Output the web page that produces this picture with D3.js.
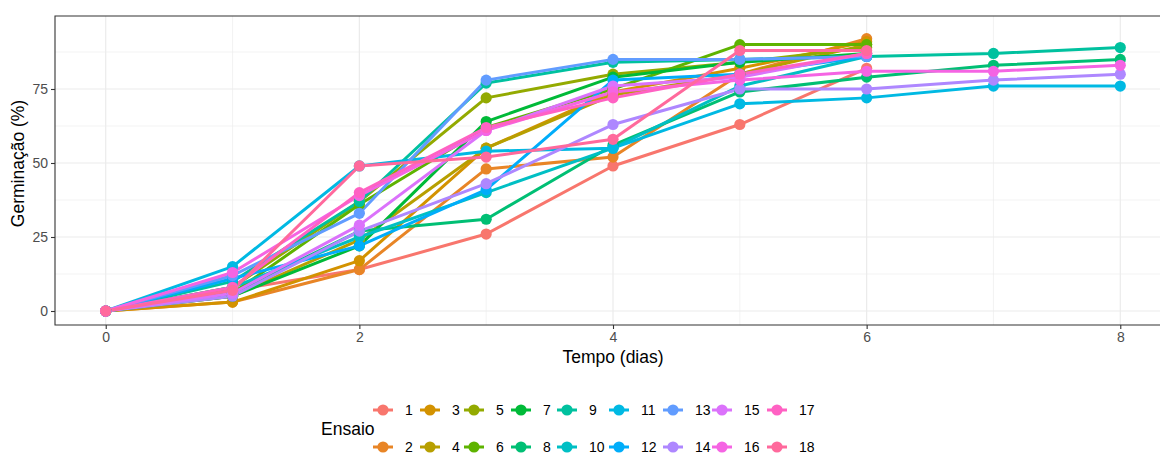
<!DOCTYPE html>
<html><head><meta charset="utf-8">
<script src="https://cdn.jsdelivr.net/npm/d3@7"></script>
<style>html,body{margin:0;background:#fff;overflow:hidden}svg{display:block;font-family:"Liberation Sans",Arial,sans-serif}</style>
</head><body><svg id="c" width="1160" height="456"></svg>
<script>
// ---- data ----
const days = [0, 1, 2, 3, 4, 5, 6, 7, 8];
const ensaios = ["1","2","3","4","5","6","7","8","9","10","11","12","13","14","15","16","17","18"];
const e1  = [0, 7, 14, 26, 49, 63, 82];
const e2  = [0, 3, 14, 48, 52, 80, 92];
const e3  = [0, 3, 17, 55, 74, 82, 91];
const e4  = [0, 5, 24, 55, 73, 80, 90];
const e5  = [0, 8, 37, 72, 80, 84, 89];
const e6  = [0, 6, 36, 62, 75, 90, 90];
const e7  = [0, 5, 22, 64, 79, 84, 87];
const e8  = [0, 6, 27, 31, 56, 74, 79, 83, 85];
const e9  = [0, 10, 37, 77, 84, 85, 86, 87, 89];
const e10 = [0, 8, 25, 40, 55, 76, 86];
const e11 = [0, 15, 49, 54, 55, 70, 72, 76, 76];
const e12 = [0, 11, 22, 41, 78, 80, 86];
const e13 = [0, 12, 33, 78, 85, 85, 86];
const e14 = [0, 5, 27, 43, 63, 75, 75, 78, 80];
const e15 = [0, 6, 29, 61, 76, 79, 87];
const e16 = [0, 13, 39, 61, 74, 78, 81, 81, 83];
const e17 = [0, 8, 40, 62, 72, 80, 87];
const e18 = [0, 7, 49, 52, 58, 88, 88];
const seriesValues = [e1,e2,e3,e4,e5,e6,e7,e8,e9,e10,e11,e12,e13,e14,e15,e16,e17,e18];
const xTicks = [0, 2, 4, 6, 8];
const yTicks = [0, 25, 50, 75];
const xTitle = "Tempo (dias)";
const yTitle = "Germinação (%)";
const legendTitle = "Ensaio";

// ---- ggplot hue palette (polarLUV) ----
function hclLuv(h, c, l) {
  const hr = h * Math.PI / 180;
  const U = c * Math.cos(hr), V = c * Math.sin(hr);
  const Xn = 95.047, Yn = 100, Zn = 108.883;
  const Y = l > 8 ? Yn * Math.pow((l + 16) / 116, 3) : Yn * l / 903.3;
  const t = Xn + 15 * Yn + 3 * Zn, un = 4 * Xn / t, vn = 9 * Yn / t;
  const u = U / (13 * l) + un, v = V / (13 * l) + vn;
  const X = 9 * Y * u / (4 * v), Z = -X / 3 - 5 * Y + 3 * Y / v;
  const x = X / 100, y = Y / 100, z = Z / 100;
  const lin = [3.240479*x - 1.537150*y - 0.498535*z,
               -0.969256*x + 1.875992*y + 0.041556*z,
               0.055648*x - 0.204043*y + 1.057311*z];
  const g = lin.map(q => { q = q <= 0.0031308 ? 12.92 * q : 1.055 * Math.pow(q, 1/2.4) - 0.055; return Math.round(255 * Math.max(0, Math.min(1, q))); });
  return d3.rgb(g[0], g[1], g[2]).formatHex();
}
const n = ensaios.length;
const colors = ensaios.map((d, i) => hclLuv(15 + 360 * i / n, 100, 65));
const color = d3.scaleOrdinal().domain(ensaios).range(colors);

// ---- layout ----
const svg = d3.select("#c");
const P = {left: 55, top: 16, bottom: 325, right: 1171};
const x = d3.scaleLinear().domain([-0.4, 8.4]).range([P.left, P.right]);
const y = d3.scaleLinear().domain([-4.73, 99.66]).range([P.bottom, P.top]);

const panel = svg.append("g");
panel.append("rect").attr("x", P.left).attr("y", P.top).attr("width", P.right - P.left).attr("height", P.bottom - P.top).attr("fill", "#fff");
const yMinor = yTicks.map(v => v + 12.5);
const xMinor = [1, 3, 5, 7];
panel.selectAll(".ym").data(yMinor).join("line").attr("x1", P.left).attr("x2", P.right).attr("y1", d => y(d)).attr("y2", d => y(d)).attr("stroke", "#EBEBEB").attr("stroke-width", 0.6);
panel.selectAll(".xm").data(xMinor).join("line").attr("y1", P.top).attr("y2", P.bottom).attr("x1", d => x(d)).attr("x2", d => x(d)).attr("stroke", "#EBEBEB").attr("stroke-width", 0.6);
panel.selectAll(".yM").data(yTicks).join("line").attr("x1", P.left).attr("x2", P.right).attr("y1", d => y(d)).attr("y2", d => y(d)).attr("stroke", "#EBEBEB").attr("stroke-width", 1.2);
panel.selectAll(".xM").data(xTicks).join("line").attr("y1", P.top).attr("y2", P.bottom).attr("x1", d => x(d)).attr("x2", d => x(d)).attr("stroke", "#EBEBEB").attr("stroke-width", 1.2);

// lines then points
const line = d3.line().x((d, i) => x(days[i])).y(d => y(d));
const marks = svg.append("g");
seriesValues.forEach((vals, k) => {
  marks.append("path").attr("d", line(vals)).attr("fill", "none").attr("stroke", color(ensaios[k])).attr("stroke-width", 3).attr("stroke-linejoin", "round");
});
seriesValues.forEach((vals, k) => {
  marks.selectAll(null).data(vals).join("circle").attr("cx", (d, i) => x(days[i])).attr("cy", d => y(d)).attr("r", 5.6).attr("fill", color(ensaios[k]));
});

// border (left, top, bottom only visible inside the picture)
svg.append("path").attr("d", `M${P.right},${P.top}H${P.left}V${P.bottom}H${P.right}`).attr("fill", "none").attr("stroke", "#333333").attr("stroke-width", 1.1);

// axes
const xAxis = svg.append("g").attr("transform", `translate(0,${P.bottom})`).call(d3.axisBottom(x).tickValues(xTicks).tickSize(4).tickPadding(3).tickFormat(d3.format("d")));
const yAxis = svg.append("g").attr("transform", `translate(${P.left},0)`).call(d3.axisLeft(y).tickValues(yTicks).tickSize(4).tickPadding(3).tickFormat(d3.format("d")));
[xAxis, yAxis].forEach(a => {
  a.select(".domain").remove();
  a.selectAll(".tick line").attr("stroke", "#333333").attr("stroke-width", 1.1);
  a.selectAll(".tick text").attr("fill", "#4D4D4D").style("font-size", "14px").style("font-family", "Liberation Sans, Arial, sans-serif");
});

svg.append("text").attr("x", 613).attr("y", 363).attr("text-anchor", "middle").style("font-size", "17.5px").attr("fill", "#000").text(xTitle);
svg.append("text").attr("transform", `translate(24,${(P.top + P.bottom) / 2 - 7}) rotate(-90)`).attr("text-anchor", "middle").style("font-size", "17.5px").attr("fill", "#000").text(yTitle);

// legend
const colX = [383, 430, 474, 521, 567, 619, 673, 722, 777];
const rowY = [410, 447];
const leg = svg.append("g");
leg.append("text").attr("x", 321).attr("y", 435).style("font-size", "17.5px").attr("fill", "#000").text(legendTitle);
ensaios.forEach((e, i) => {
  const cx = colX[Math.floor(i / 2)], cy = rowY[i % 2];
  leg.append("line").attr("x1", cx - 10).attr("x2", cx + 10).attr("y1", cy).attr("y2", cy).attr("stroke", color(e)).attr("stroke-width", 3);
  leg.append("circle").attr("cx", cx).attr("cy", cy).attr("r", 5.6).attr("fill", color(e));
  leg.append("text").attr("x", cx + 22).attr("y", cy + 5).style("font-size", "14px").attr("fill", "#000").text(e);
});
</script></body></html>
